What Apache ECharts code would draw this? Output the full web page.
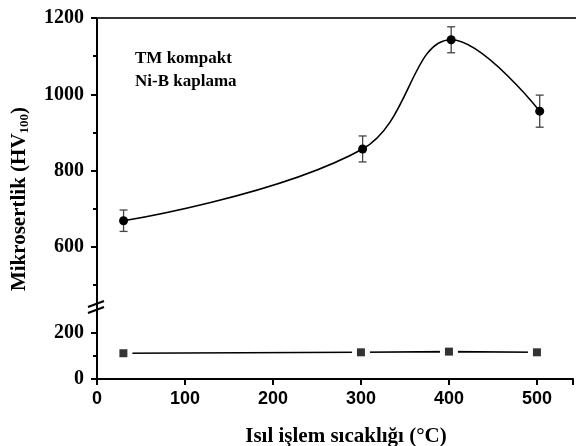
<!DOCTYPE html>
<html>
<head>
<meta charset="utf-8">
<script src="https://cdn.jsdelivr.net/npm/echarts@6/dist/echarts.min.js"></script>
<style>html,body{margin:0;padding:0;background:#fff}#c{width:576px;height:446px}</style>
</head>
<body>
<div id="c"></div>
<script>
// Data
var temps = [30, 300, 400, 500];
var coatingHV = [669, 857, 1143, 956];
var coatingErr = [28, 34, 34, 42];
var substrateHV = [112, 116, 119, 116];
var upperLabels = [600, 800, 1000, 1200];
var upperMinor = [500, 700, 900, 1100];
var lowerLabels = [0, 200];
var lowerMinor = [100];

var serif = '"Liberation Serif","Times New Roman",serif';
var sans = '"Liberation Sans",Arial,sans-serif';

var chart = echarts.init(document.getElementById('c'), null, {renderer: 'canvas'});

var coatPts = temps.map(function (t, i) { return [t, coatingHV[i]]; });
var subPts = temps.map(function (t, i) { return [t, substrateHV[i]]; });
var errPts = temps.map(function (t, i) { return [t, coatingHV[i], coatingErr[i]]; });

var axisLineStyle = {color: '#000', width: 2};
var plain = function (v) { return String(v); };

chart.setOption({
  animation: false,
  grid: [
    {left: 97, right: 0, top: 18, height: 289},
    {left: 97, right: 0, top: 307, height: 72}
  ],
  xAxis: [
    {gridIndex: 0, type: 'value', min: 0, max: 541, position: 'top',
     axisLine: {show: true, lineStyle: {color: '#333', width: 2}},
     axisTick: {show: false}, axisLabel: {show: false}, splitLine: {show: false}},
    {gridIndex: 1, type: 'value', min: 0, max: 541, interval: 100, position: 'bottom',
     axisLine: {show: true, onZero: false, lineStyle: axisLineStyle},
     axisTick: {show: true, length: 6, lineStyle: {color: '#000', width: 2}},
     axisLabel: {show: true, margin: 11, color: '#000', fontFamily: sans, fontWeight: 'bold', fontSize: 18,
       formatter: function (v) { return v > 500 ? '' : String(v); }},
     splitLine: {show: false}}
  ],
  yAxis: [
    {gridIndex: 0, type: 'value', min: 443, max: 1200, position: 'left',
     axisLine: {show: true, onZero: false, lineStyle: axisLineStyle},
     axisTick: {show: true, length: 6, customValues: upperLabels, lineStyle: {color: '#000', width: 2}},
     axisLabel: {show: true, margin: 13, customValues: upperLabels, formatter: plain, color: '#000', fontFamily: serif, fontWeight: 'bold', fontSize: 20},
     splitLine: {show: false}},
    {gridIndex: 0, type: 'value', min: 443, max: 1200, position: 'left',
     axisLine: {show: false},
     axisTick: {show: true, length: 4, customValues: upperMinor, lineStyle: {color: '#000', width: 2}},
     axisLabel: {show: false}, splitLine: {show: false}},
    {gridIndex: 1, type: 'value', min: 0, max: 313, position: 'left',
     axisLine: {show: true, onZero: false, lineStyle: axisLineStyle},
     axisTick: {show: true, length: 6, customValues: lowerLabels, lineStyle: {color: '#000', width: 2}},
     axisLabel: {show: true, margin: 13, customValues: lowerLabels, formatter: plain, color: '#000', fontFamily: serif, fontWeight: 'bold', fontSize: 20},
     splitLine: {show: false}},
    {gridIndex: 1, type: 'value', min: 0, max: 313, position: 'left',
     axisLine: {show: false},
     axisTick: {show: true, length: 4, customValues: lowerMinor, lineStyle: {color: '#000', width: 2}},
     axisLabel: {show: false}, splitLine: {show: false}}
  ],
  series: [
    {type: 'line', xAxisIndex: 0, yAxisIndex: 0, data: coatPts, smooth: 0.4,
     symbol: 'circle', symbolSize: 9, showSymbol: true,
     lineStyle: {color: '#000', width: 1.6}, itemStyle: {color: '#000'}, z: 3},
    {type: 'custom', xAxisIndex: 0, yAxisIndex: 0, data: errPts, z: 2,
     renderItem: function (params, api) {
       var x = api.value(0), y = api.value(1), e = api.value(2);
       var top = api.coord([x, y + e]);
       var bot = api.coord([x, y - e]);
       var w = 4;
       var st = {stroke: '#444', lineWidth: 1.3};
       return {type: 'group', children: [
         {type: 'line', shape: {x1: top[0], y1: top[1], x2: bot[0], y2: bot[1]}, style: st},
         {type: 'line', shape: {x1: top[0] - w, y1: top[1], x2: top[0] + w, y2: top[1]}, style: st},
         {type: 'line', shape: {x1: bot[0] - w, y1: bot[1], x2: bot[0] + w, y2: bot[1]}, style: st}
       ]};
     }},
    {type: 'line', xAxisIndex: 1, yAxisIndex: 2, data: subPts, smooth: false,
     symbol: 'rect', symbolSize: 18, showSymbol: true,
     lineStyle: {color: '#000', width: 1.6},
     itemStyle: {color: '#fff', borderWidth: 0}, z: 3},
    {type: 'scatter', xAxisIndex: 1, yAxisIndex: 2, data: subPts,
     symbol: 'rect', symbolSize: 8, itemStyle: {color: '#000'}, z: 4}
  ],
  graphic: [
    {type: 'line', shape: {x1: 88, y1: 307, x2: 104, y2: 301}, style: {stroke: '#000', lineWidth: 2}, z: 10},
    {type: 'line', shape: {x1: 88, y1: 313, x2: 104, y2: 307}, style: {stroke: '#000', lineWidth: 2}, z: 10},
    {type: 'text', x: 135, y: 47,
     style: {text: 'TM kompakt\nNi-B kaplama', font: 'bold 17px ' + serif, fill: '#000', lineHeight: 23, textVerticalAlign: 'top'}},
    {type: 'text', x: 346, y: 437,
     style: {text: 'Isıl işlem sıcaklığı (°C)', font: 'bold 21px ' + serif, fill: '#000', textAlign: 'center', textVerticalAlign: 'middle'}},
    {type: 'text', x: 20, y: 199, rotation: Math.PI / 2,
     style: {text: '{a|Mikrosertlik (HV}{b|100}{a|)}', textAlign: 'center', textVerticalAlign: 'middle',
       rich: {a: {font: 'bold 21px ' + serif, fill: '#000', color: '#000'},
              b: {font: 'bold 13px ' + serif, fill: '#000', color: '#000', padding: [10, 0, 0, 0]}}}}
  ]
});
</script>
</body>
</html>
